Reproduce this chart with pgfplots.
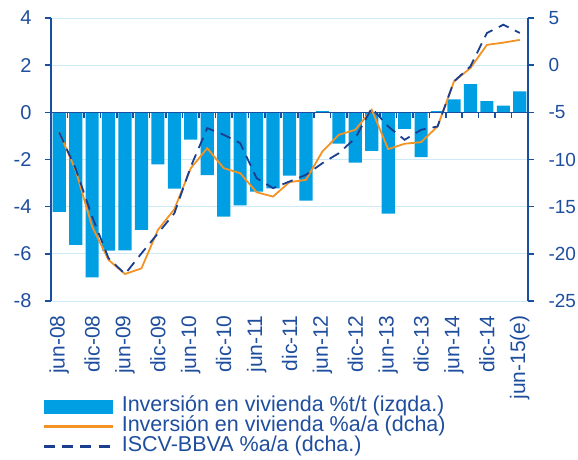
\documentclass[border=0pt]{standalone}
\usepackage{fontspec}
\setmainfont{Liberation Sans}
\usepackage{pgfplots}
\pgfplotsset{compat=1.18}

\definecolor{txtblue}{HTML}{1F4E9E}
\definecolor{axblue}{HTML}{1A4FA0}
\definecolor{barblue}{HTML}{009FE3}
\definecolor{orng}{HTML}{F39325}
\definecolor{navy}{HTML}{1B3F8F}
\definecolor{gridblue}{HTML}{CFEAF7}

\pgfplotsset{
  common/.style={
    scale only axis, width=477pt, height=283pt,
    xmin=-0.5, xmax=28.5,
    tick align=outside, major tick length=6pt,
    tick label style={font=\fontsize{20}{20}\selectfont, text=txtblue},
    y axis line style={axblue, line width=1.6pt},
    ytick style={axblue, line width=1.6pt},
    /pgf/number format/assume math mode=true,
  },
}

\begin{document}
\begin{tikzpicture}
\path[use as bounding box] (-51pt,-158pt) rectangle (527pt,301pt);

% izquierda: barras %t/t
\begin{axis}[common,
  ymin=-8, ymax=4, ytick={-8,-6,...,4},
  axis y line*=left, axis x line*=bottom,
  x axis line style={draw=none},
  xtick={0,2,...,28}, major x tick style={draw=none},
  xticklabels={jun-08,dic-08,jun-09,dic-09,jun-10,dic-10,jun-11,dic-11,jun-12,dic-12,jun-13,dic-13,jun-14,dic-14,jun-15(e)},
  x tick label style={rotate=90, anchor=east, font=\fontsize{21}{21}\selectfont},
  xticklabel shift=5pt,
  yticklabel style={xshift=-10pt},
  ymajorgrids, major grid style={gridblue, line width=0.8pt},
  ybar, bar width=0.8,
]
\addplot[fill=barblue, draw=none] coordinates {
(0,-4.22)(1,-5.62)(2,-7.0)(3,-5.86)(4,-5.85)(5,-4.98)(6,-2.21)(7,-3.23)
(8,-1.16)(9,-2.66)(10,-4.42)(11,-3.95)(12,-3.36)(13,-3.22)(14,-2.68)(15,-3.74)
(16,0.05)(17,-1.33)(18,-2.13)(19,-1.63)(20,-4.29)(21,-0.70)(22,-1.90)(23,0.05)
(24,0.55)(25,1.20)(26,0.48)(27,0.28)(28,0.89)};
\draw[axblue, line width=1.6pt] (axis cs:-0.5,0) -- (axis cs:28.5,0);
\pgfplotsinvokeforeach{0.5,1.5,...,27.5}{
  \draw[axblue, line width=1.6pt] (axis cs:#1,0) -- ([yshift=-6pt]axis cs:#1,0);
}
\end{axis}

% derecha: %a/a
\begin{axis}[common,
  ymin=-25, ymax=5, ytick={-25,-20,...,5},
  axis y line*=right, axis x line=none,
  yticklabel style={xshift=11pt, font=\fontsize{19}{19}\selectfont},
  legend style={at={(0,0)}, anchor=north west, xshift=-8pt, yshift=-95pt,
    draw=none, fill=none, font=\fontsize{21.5}{20}\selectfont, text=txtblue,
    row sep=0pt, inner sep=0pt,
    nodes={inner sep=0pt, text height=15pt, text depth=5pt}},
  legend cell align=left,
  legend image code/.code={\draw[#1, line width=2.6pt] (0pt,0pt) -- (68pt,0pt);},
]
\addlegendimage{legend image code/.code={\fill[barblue] (0pt,-6.5pt) rectangle (68pt,6.5pt);}}
\addlegendentry{\hspace{8pt}Inversión en vivienda \%t/t (izqda.)}
\addplot[orng, line width=1.8pt] coordinates {
(0,-7.13)(1,-11.15)(2,-17.1)(3,-20.65)(4,-22.14)(5,-21.54)(6,-17.46)(7,-15.27)
(8,-10.92)(9,-8.8)(10,-10.92)(11,-11.45)(12,-13.47)(13,-13.93)(14,-12.4)(15,-12.16)
(16,-9.15)(17,-7.38)(18,-6.85)(19,-4.73)(20,-8.9)(21,-8.33)(22,-8.16)(23,-6.5)
(24,-1.72)(25,-0.31)(26,2.15)(27,2.39)(28,2.68)};
\addlegendentry{\hspace{8pt}Inversión en vivienda \%a/a (dcha)}
\addplot[navy, line width=1.8pt, dash pattern=on 11pt off 7pt] coordinates {
(0,-7.13)(1,-10.97)(2,-16.05)(3,-20.47)(4,-22.14)(5,-19.95)(6,-17.83)(7,-15.7)
(8,-10.75)(9,-6.67)(10,-7.38)(11,-8.26)(12,-11.98)(13,-13.04)(14,-12.33)(15,-11.63)
(16,-10.39)(17,-9.33)(18,-7.73)(19,-4.55)(20,-6.5)(21,-7.91)(22,-6.85)(23,-6.5)
(24,-1.72)(25,-0.13)(26,3.41)(27,4.29)(28,3.41)};
\addlegendentry{\hspace{8pt}ISCV-BBVA \%a/a (dcha.)}
\end{axis}
\end{tikzpicture}
\end{document}
